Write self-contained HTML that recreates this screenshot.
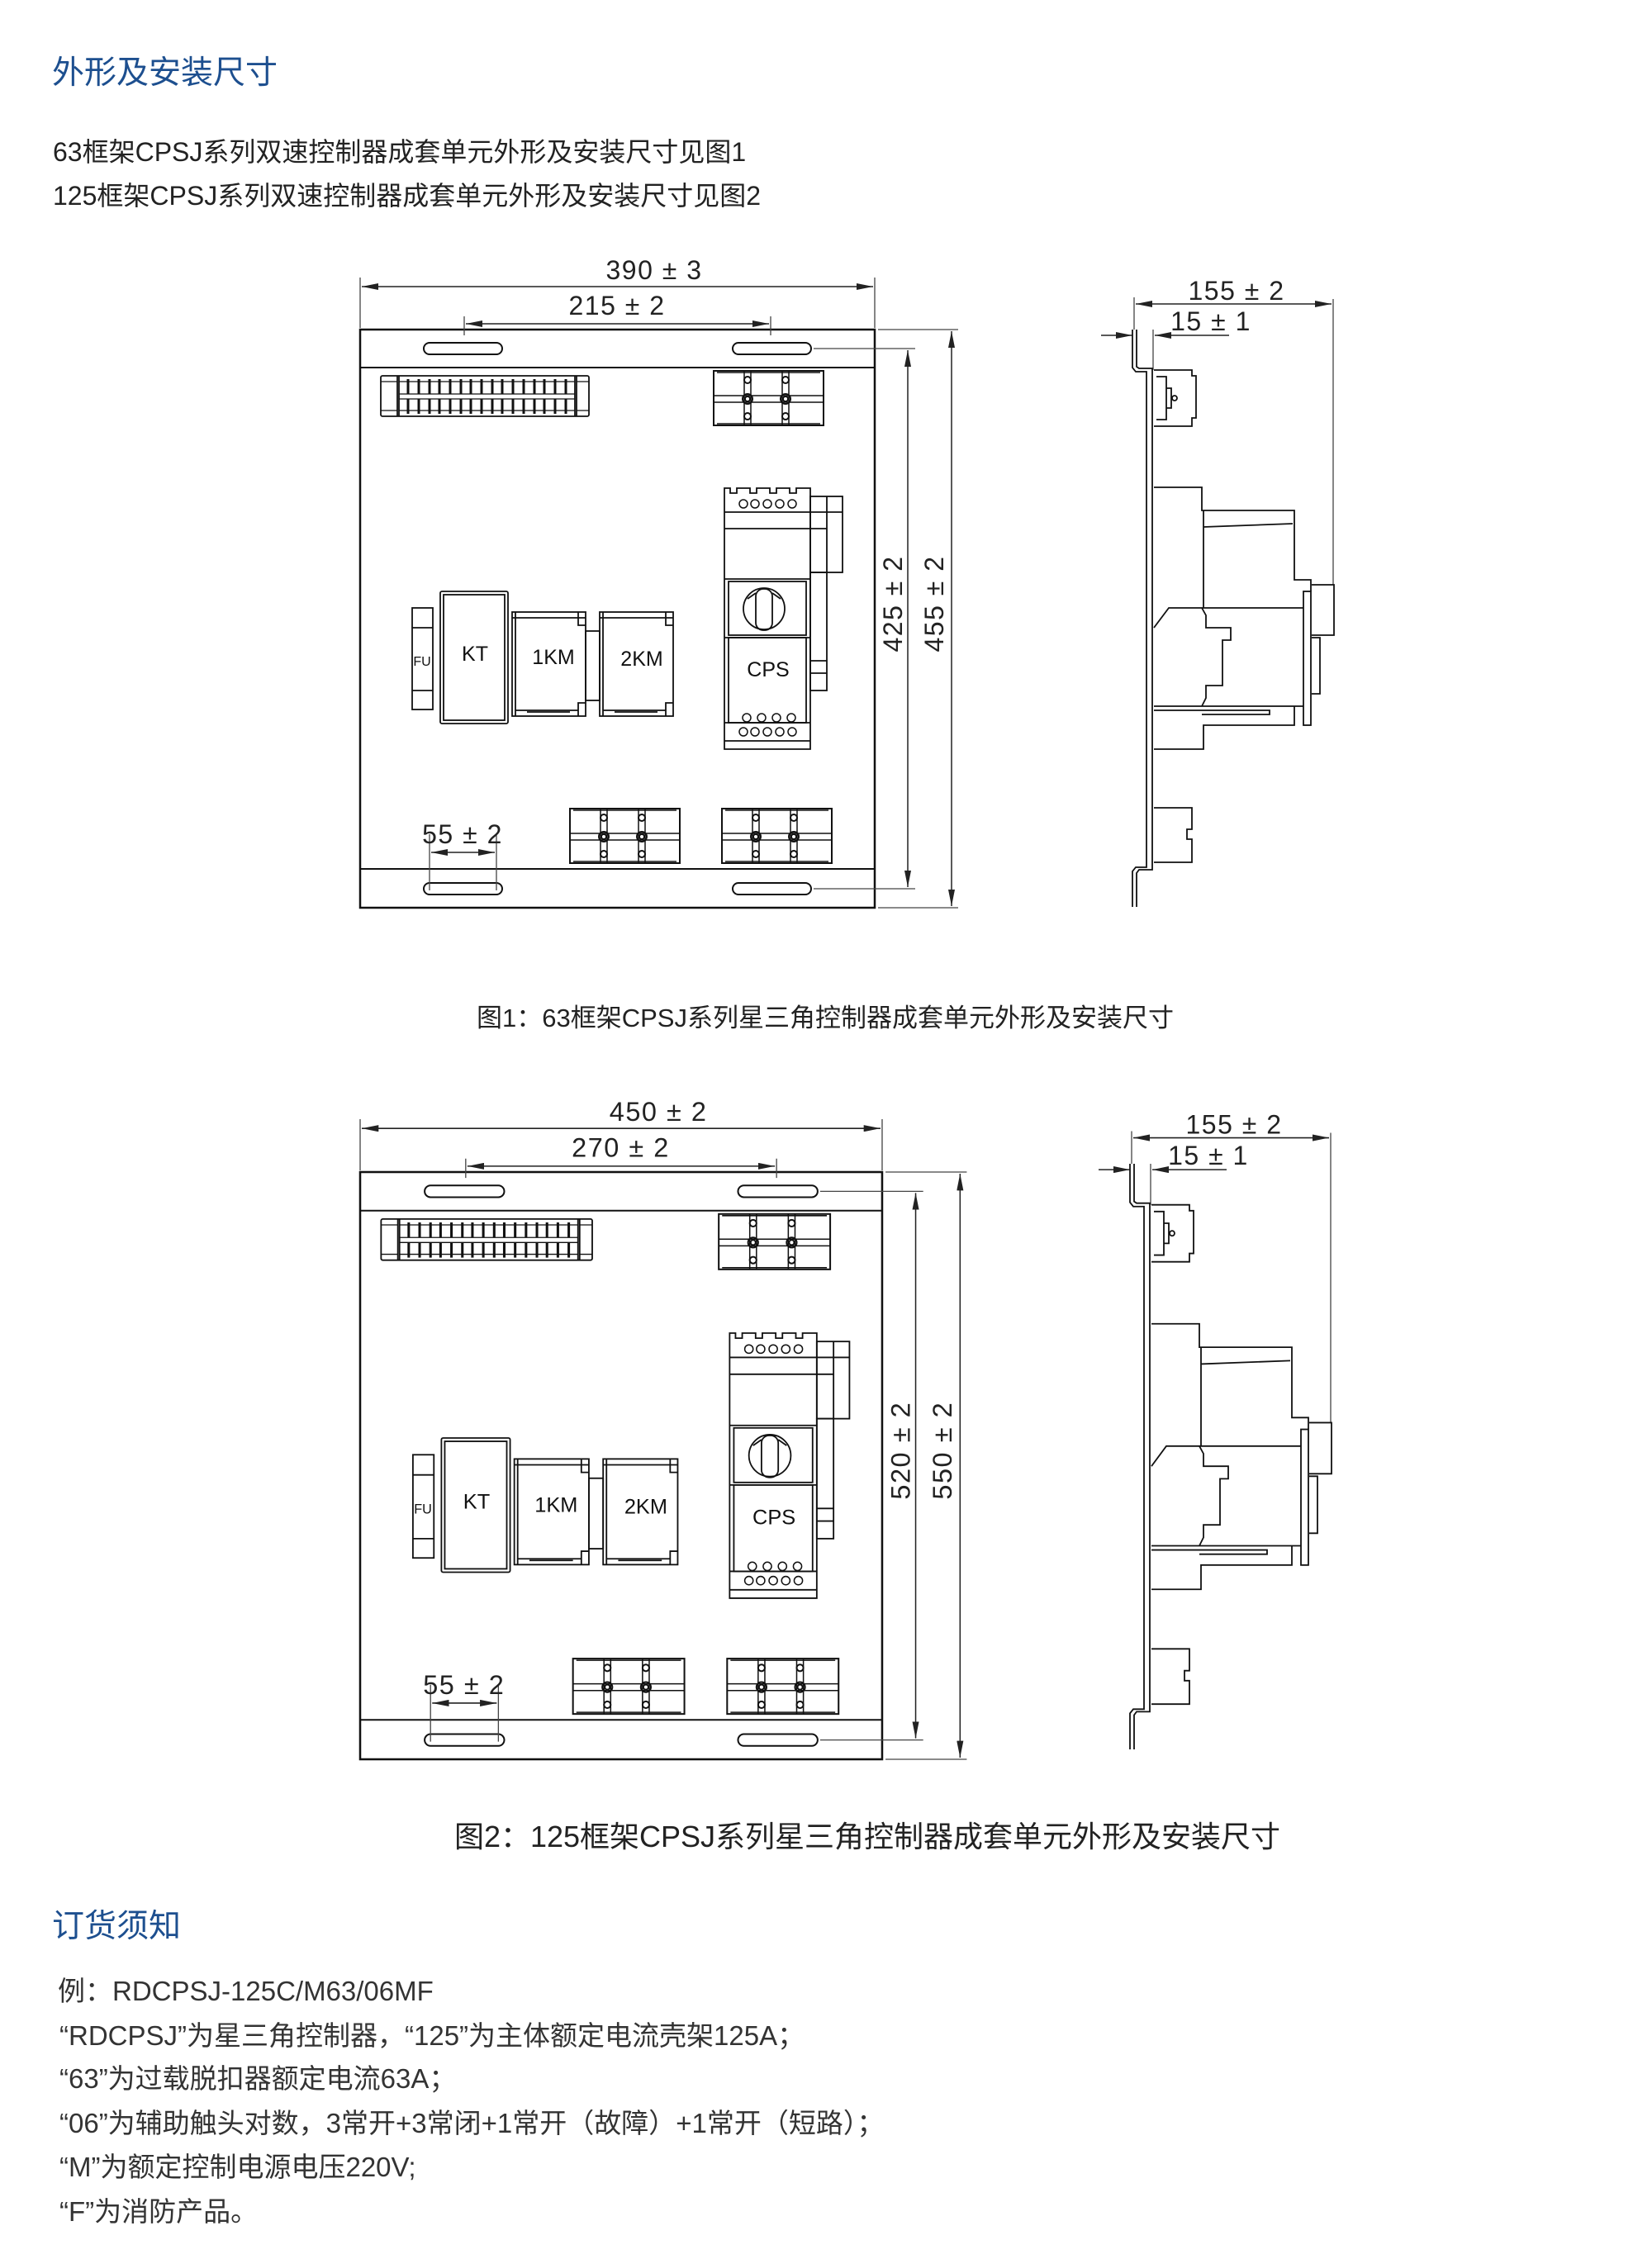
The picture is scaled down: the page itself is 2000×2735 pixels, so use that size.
<!DOCTYPE html>
<html><head><meta charset="utf-8"><style>
html,body{margin:0;padding:0;background:#fff;}
svg{display:block;}
</style></head><body>
<svg xmlns="http://www.w3.org/2000/svg" xmlns:xlink="http://www.w3.org/1999/xlink" width="2000" height="2735" viewBox="0 0 2000 2735">
<defs>
<marker id="ar" viewBox="0 0 20 8" refX="20" refY="4" markerWidth="20" markerHeight="8" markerUnits="userSpaceOnUse" orient="auto-start-reverse">
<path d="M0,0 L20,4 L0,8 Z" fill="#222"/>
</marker>
<g id="tb" fill="none" stroke="#111" stroke-width="2">
<rect x="0" y="0" width="133" height="66"/>
<path d="M4,2 H129 M0,30 H133 M0,38 H133 M4,64 H129" stroke-width="1.5"/>
<path d="M37,0 V66 M45,0 V66 M83,0 V66 M91,0 V66" stroke-width="1.5"/>
<circle cx="41" cy="11" r="4"/><circle cx="41" cy="55" r="4"/>
<circle cx="41" cy="34" r="6"/><circle cx="41" cy="34" r="3"/>
<circle cx="87" cy="11" r="4"/><circle cx="87" cy="55" r="4"/>
<circle cx="87" cy="34" r="6"/><circle cx="87" cy="34" r="3"/>
</g>
<g id="plan">
<rect x="436" y="399" width="623" height="700" fill="none" stroke="#111" stroke-width="2.5"/>
<path d="M436,445 H1059 M436,1052 H1059" stroke="#111" stroke-width="2"/>
<g fill="none" stroke="#111" stroke-width="2">
<rect x="513" y="415" width="95" height="14" rx="7"/>
<rect x="887" y="415" width="95" height="14" rx="7"/>
<rect x="513" y="1069" width="95" height="14" rx="7"/>
<rect x="887" y="1069" width="95" height="14" rx="7"/>
</g>
<g stroke="#444" stroke-width="1.3" fill="none">
<path d="M436,336 V397 M1059,336 V397 M562,383 V406 M933,383 V406 M985,422 H1108 M985,1076 H1108 M1063,399 H1160 M1063,1099 H1160 M520,1010 V1078 M601,1010 V1078"/>
</g>
<g stroke="#222" stroke-width="1.5" fill="none">
<line x1="438" y1="347" x2="1057" y2="347" marker-start="url(#ar)" marker-end="url(#ar)"/>
<line x1="564" y1="392" x2="931" y2="392" marker-start="url(#ar)" marker-end="url(#ar)"/>
<line x1="1099" y1="424" x2="1099" y2="1074" marker-start="url(#ar)" marker-end="url(#ar)"/>
<line x1="1152" y1="401" x2="1152" y2="1097" marker-start="url(#ar)" marker-end="url(#ar)"/>
<line x1="522" y1="1032" x2="599" y2="1032" marker-start="url(#ar)" marker-end="url(#ar)"/>
</g>
<g fill="none" stroke="#111" stroke-width="1.8">
<rect x="461" y="455" width="252" height="49" rx="2"/>
<path d="M481,455 V504 M483,455 V504 M698,455 V504 M696,455 V504"/>
<path d="M461,462 H481 M461,497 H481 M698,462 H713 M698,497 H713" stroke-width="1.3"/>
<path d="M483,462 H696 M483,497 H696 M483,477 H696 M483,483 H696" stroke-width="1.3"/>
<path d="M494,459 V477 M494,483 V501 M507,459 V477 M507,483 V501 M520,459 V477 M520,483 V501 M532,459 V477 M532,483 V501 M545,459 V477 M545,483 V501 M558,459 V477 M558,483 V501 M570,459 V477 M570,483 V501 M583,459 V477 M583,483 V501 M596,459 V477 M596,483 V501 M608,459 V477 M608,483 V501 M621,459 V477 M621,483 V501 M634,459 V477 M634,483 V501 M647,459 V477 M647,483 V501 M659,459 V477 M659,483 V501 M672,459 V477 M672,483 V501 M685,459 V477 M685,483 V501" stroke-width="3"/>
</g>
<use href="#tb" transform="translate(864,449)"/>
<use href="#tb" transform="translate(690,979)"/>
<use href="#tb" transform="translate(874,979)"/>
<g fill="none" stroke="#111" stroke-width="1.8">
<rect x="499" y="736" width="25" height="123"/>
<path d="M499,760 H524 M499,836 H524"/>
<rect x="533" y="716" width="82" height="160" rx="2"/>
<rect x="537" y="720" width="74" height="152"/>
<rect x="620" y="741" width="89" height="126"/>
<path d="M624,741 V867 M620,748 H709 M700,741 V757 H709 M700,867 V851 H709 M624,860 H700 M638,862 H690"/>
<rect x="709" y="764" width="17" height="84"/>
<rect x="726" y="741" width="89" height="126"/>
<path d="M730,741 V867 M726,748 H815 M806,741 V757 H815 M806,867 V851 H815 M730,860 H806 M744,862 H796"/>
<path d="M877,591 H884 V597 H892 V591 H908 V597 H916 V591 H932 V597 H940 V591 H956 V597 H964 V591 H981 V907 H877 Z"/>
<path d="M877,620 H981 M877,640 H981 M877,701 H981 M877,772 H981 M877,875 H981 M877,897 H981"/>
<rect x="882" y="704" width="94" height="65"/>
<rect x="882" y="772" width="94" height="103"/>
<circle cx="925" cy="737" r="25"/>
<rect x="915" y="713" width="20" height="50" rx="9"/>
<path d="M905,725 L915,718 M945,725 L935,718"/>
<g stroke-width="1.5">
<circle cx="900" cy="610" r="5"/><circle cx="914" cy="610" r="5"/><circle cx="929" cy="610" r="5"/><circle cx="944" cy="610" r="5"/><circle cx="959" cy="610" r="5"/>
<circle cx="904" cy="869" r="5"/><circle cx="922" cy="869" r="5"/><circle cx="940" cy="869" r="5"/><circle cx="958" cy="869" r="5"/>
<circle cx="900" cy="886" r="5"/><circle cx="914" cy="886" r="5"/><circle cx="929" cy="886" r="5"/><circle cx="944" cy="886" r="5"/><circle cx="959" cy="886" r="5"/>
</g>
<rect x="981" y="601" width="39" height="92"/>
<path d="M1001,601 V693 M981,620 H1020 M981,640 H1001"/>
<rect x="981" y="693" width="20" height="143"/>
<path d="M981,800 H1001 M981,815 H1001"/>
</g>
</g>
<g id="side" fill="none" stroke="#111" stroke-width="1.8">
<g stroke="#444" stroke-width="1.3">
<path d="M1373,360 V399 M1614,362 V708 M1396,399 V448"/>
</g>
<g stroke="#222" stroke-width="1.5">
<line x1="1375" y1="368" x2="1612" y2="368" marker-start="url(#ar)" marker-end="url(#ar)"/>
<line x1="1333" y1="406" x2="1371" y2="406" marker-end="url(#ar)"/>
<line x1="1488" y1="406" x2="1398" y2="406" marker-end="url(#ar)"/>
</g>
<path d="M1371,399 V445 L1375,450 H1388 V1050 H1375 L1371,1055 V1098 M1376,399 V444 L1379,446 H1395 V1053 H1379 L1376,1057 V1098"/>
<path d="M1397,448 H1443 V455 H1448 V506 H1443 V516 H1397"/>
<path d="M1400,456 H1412 V508 H1400 M1412,470 H1418 V494 H1412"/>
<circle cx="1422" cy="482" r="3"/>
<path d="M1397,590 H1455 V618 H1567 V702 H1587 V716"/>
<path d="M1457,618 V736 M1457,638 L1565,634"/>
<rect x="1578" y="716" width="9" height="162"/>
<path d="M1588,708 H1615 V769 H1588 M1588,772 H1598 V840 H1588"/>
<path d="M1397,760 L1415,736 H1578 M1455,736 L1460,745 V760 H1490 V775 H1480 V830 H1460 V845 L1455,855 H1397 M1455,855 H1578"/>
<path d="M1397,860 H1537 V865 H1455 M1567,855 V878 H1457 V907 H1397"/>
<path d="M1397,978 H1443 V1004 H1437 V1016 H1443 V1044 H1397"/>
</g>
</defs>

<g font-family="'Liberation Sans','Noto Sans CJK SC',sans-serif">
<text x="63" y="101" font-size="39" fill="#1d4f8f">外形及安装尺寸</text>
<text x="64" y="195" font-size="32" fill="#222">63框架CPSJ系列双速控制器成套单元外形及安装尺寸见图1</text>
<text x="64" y="248" font-size="32" fill="#222">125框架CPSJ系列双速控制器成套单元外形及安装尺寸见图2</text>

<use href="#plan"/>
<use href="#side"/>
<g font-size="32" fill="#222" text-anchor="middle" letter-spacing="1.5">
<text x="792" y="338">390 ± 3</text>
<text x="747" y="381">215 ± 2</text>
<text x="560" y="1021">55 ± 2</text>
<text transform="translate(1092,731) rotate(-90)">425 ± 2</text>
<text transform="translate(1142,731) rotate(-90)">455 ± 2</text>
<text x="1497" y="363">155 ± 2</text>
<text x="1466" y="400">15 ± 1</text>
</g>
<g font-size="25" fill="#111" text-anchor="middle">
<text x="575" y="800">KT</text>
<text x="670" y="804">1KM</text>
<text x="777" y="806">2KM</text>
<text x="930" y="819">CPS</text>
<text x="511" y="806" font-size="16">FU</text>
</g>
<text x="999" y="1243" font-size="31" fill="#222" text-anchor="middle">图1：63框架CPSJ系列星三角控制器成套单元外形及安装尺寸</text>

<g transform="translate(436,1419) scale(1.0144,1.0157) translate(-436,-399)">
<use href="#plan"/>
<g font-size="32" fill="#222" text-anchor="middle" letter-spacing="1.5">
<text x="792" y="338">450 ± 2</text>
<text x="747" y="381">270 ± 2</text>
<text x="560" y="1021">55 ± 2</text>
<text transform="translate(1092,731) rotate(-90)">520 ± 2</text>
<text transform="translate(1142,731) rotate(-90)">550 ± 2</text>
</g>
<g font-size="25" fill="#111" text-anchor="middle">
<text x="575" y="800">KT</text>
<text x="670" y="804">1KM</text>
<text x="777" y="806">2KM</text>
<text x="930" y="819">CPS</text>
<text x="511" y="806" font-size="16">FU</text>
</g>
</g>
<g transform="translate(-3,1409) scale(1,1.0143) translate(0,-399)">
<use href="#side"/>
<g font-size="32" fill="#222" text-anchor="middle" letter-spacing="1.5">
<text x="1497" y="363">155 ± 2</text>
<text x="1466" y="400">15 ± 1</text>
</g>
</g>
<text x="1050" y="2236" font-size="36" fill="#222" text-anchor="middle">图2：125框架CPSJ系列星三角控制器成套单元外形及安装尺寸</text>

<text x="63" y="2345" font-size="39" fill="#1d4f8f">订货须知</text>
<g font-size="33" fill="#333">
<text x="70" y="2422">例：RDCPSJ-125C/M63/06MF</text>
<text x="72" y="2476">“RDCPSJ”为星三角控制器，“125”为主体额定电流壳架125A；</text>
<text x="72" y="2528">“63”为过载脱扣器额定电流63A；</text>
<text x="72" y="2582">“06”为辅助触头对数，3常开+3常闭+1常开（故障）+1常开（短路）；</text>
<text x="72" y="2635">“M”为额定控制电源电压220V;</text>
<text x="72" y="2689">“F”为消防产品。</text>
</g>
</g>
</svg>
</body></html>
